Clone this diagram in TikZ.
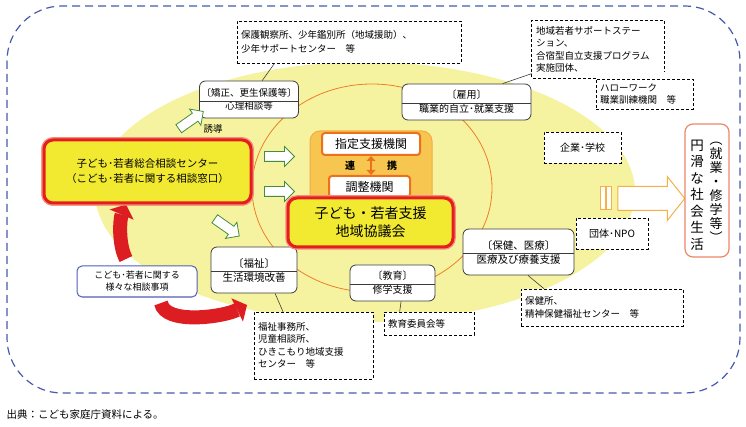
\documentclass[tikz,border=0pt]{standalone}
\usepackage{fontspec}
\setmainfont{Noto Sans CJK JP}
\usetikzlibrary{arrows.meta}
\usetikzlibrary{shapes.arrows}

\definecolor{outerblue}{RGB}{70,90,175}
\definecolor{pale}{RGB}{246,243,160}
\definecolor{ring}{RGB}{240,125,40}
\definecolor{boxline}{RGB}{60,60,60}
\definecolor{centeryellow}{RGB}{242,234,48}
\definecolor{redline}{RGB}{228,30,30}
\definecolor{redouter}{RGB}{245,140,120}
\definecolor{groupfill}{RGB}{246,198,80}
\definecolor{groupline}{RGB}{245,170,70}
\definecolor{innerorange}{RGB}{236,112,30}
\definecolor{arrowgreen}{RGB}{70,140,60}
\definecolor{arroworange}{RGB}{245,175,70}
\definecolor{lifeline}{RGB}{236,135,105}
\definecolor{bluebox}{RGB}{80,95,180}
\definecolor{redfill}{RGB}{220,30,35}

\begin{document}
\begin{tikzpicture}
  [x=1pt,y=-1pt,
   dashbox/.style={draw,dashed,dash pattern=on 3pt off 2pt,line width=0.7pt,fill=white,
     inner sep=4pt,align=left,font=\fontsize{9.5}{12.5}\selectfont},
   splitbox/.style={draw=boxline,line width=0.8pt,fill=white,rounded corners=6pt,
     inner xsep=2pt,align=center,font=\fontsize{10}{14}\selectfont},
   redbox/.style={draw=redline,line width=3pt,fill=centeryellow,rounded corners=9pt,
     preaction={draw=redouter,line width=5.5pt},align=center},
   greenarrow/.style={single arrow,draw=arrowgreen,fill=white,line width=0.8pt,
     inner sep=4.5pt,single arrow head extend=5pt,minimum height=30pt},
   redarrow/.style={draw=redfill,line width=14pt,
     -{Triangle[length=11pt,width=26pt,line width=0pt]}},
   inbox/.style={draw=innerorange,line width=2pt,fill=white,rounded corners=3pt,
     font=\fontsize{12}{14}\selectfont},
   link/.style={draw=boxline,line width=0.6pt}]
  \useasboundingbox (0,0) rectangle (746,427);

  % background
  \draw[outerblue,line width=1.2pt,dash pattern=on 8pt off 5pt,rounded corners=55pt]
    (7,6) rectangle (740,393);
  \fill[pale] (365,192) ellipse [x radius=270, y radius=130];
  \draw[ring,line width=0.8pt] (372,188) ellipse [x radius=120, y radius=104];

  % red arrows
  \coordinate (redA) at (126,259);
  \coordinate (redB) at (161,303);
  \coordinate (redBend) at (247,305);
  \node[redbox,minimum width=207pt,minimum height=63pt,
    font=\fontsize{10.5}{15}\selectfont] (sodan) at (147.5,171.5)
    {子ども･若者総合相談センター\\（こども･若者に関する相談窓口）};
  \draw[redarrow] (redA) .. controls +(-8,-15) and +(-6,14) .. (sodan.south -| redA);
  \draw[redarrow] (redB) .. controls +(4,22) and +(-24,12) .. (redBend);
  \node[redbox,minimum width=207pt,minimum height=63pt,
    font=\fontsize{10.5}{15}\selectfont] at (sodan) 
    {子ども･若者総合相談センター\\（こども･若者に関する相談窓口）};

  % outside boxes
  \node[dashbox,text width=216pt,minimum height=42pt,
    font=\fontsize{9.5}{14}\selectfont] (hogo) at (349,42)
    {保護観察所、少年鑑別所（地域援助）、\\少年サポートセンター　等};
  \node[dashbox,draw=none,text width=124pt,minimum height=57pt] (chiiki) at (598,49.5)
    {地域若者サポートステー\\ション、\\合宿型自立支援プログラム\\実施団体、};
  \node[dashbox,text width=89pt,minimum height=30pt,
    font=\fontsize{9.5}{12}\selectfont] (hello) at (644.5,94)
    {ハローワーク\\職業訓練機関　等};
  \draw[dash pattern=on 3pt off 2pt,line width=0.7pt]
    (chiiki.south west -| hello.west) -- (chiiki.south west) -- (chiiki.north west)
    -- (chiiki.north east) -- ([yshift=6pt]chiiki.south east);
  \node[dashbox,align=center,minimum width=77pt,minimum height=31pt,
    font=\fontsize{10}{12}\selectfont] (kigyo) at (582.5,147.5) {企業･学校};
  \node[dashbox,align=center,minimum width=72pt,minimum height=31pt,
    font=\fontsize{10}{12}\selectfont] (dantai) at (612,233.5) {団体･NPO};
  \node[dashbox,text width=111pt,minimum height=67pt] (fukujimu) at (313.5,345.5)
    {福祉事務所、\\児童相談所、\\ひきこもり地域支援\\センター　等};
  \node[dashbox,text width=82pt,minimum height=23pt] (kyoikui) at (429,323.5)
    {教育委員会等};
  \node[dashbox,text width=154pt,minimum height=37pt,
    font=\fontsize{9.5}{13}\selectfont] (hokenjo) at (602,307.5)
    {保健所、\\精神保健福祉センター　等};

  % field boxes
  \node[splitbox,minimum width=98pt,minimum height=37pt,
    font=\fontsize{9.5}{13.5}\selectfont] (kyosei) at (249,99.5)
    {〔矯正、更生保護等〕\\心理相談等};
  \node[splitbox,minimum width=129pt,minimum height=36pt] (koyo) at (466.5,102)
    {〔雇用〕\\職業的自立･就業支援};
  \node[splitbox,minimum width=86pt,minimum height=46pt,
    font=\fontsize{10.5}{14}\selectfont] (fukushi) at (254,270)
    {〔福祉〕\\生活環境改善};
  \node[splitbox,minimum width=85pt,minimum height=36pt] (kyoiku) at (392.5,283)
    {〔教育〕\\修学支援};
  \node[splitbox,minimum width=111pt,minimum height=46pt,
    font=\fontsize{10.5}{14}\selectfont] (hoken) at (518.5,252)
    {〔保健、医療〕\\医療及び療養支援};
  \foreach \b in {kyosei,koyo,fukushi,kyoiku,hoken}
    \draw[link,line width=0.8pt] ([yshift=-1.5pt]\b.west) -- ([yshift=-1.5pt]\b.east);

  \draw[link] (kyosei.55) -- (hogo.196);
  \draw[link] (koyo.27) -- (chiiki.200);
  \draw[link] (fukushi.-48) -- (fukujimu.132);
  \draw[link] (kyoiku.-65) -- (kyoikui.158);
  \draw[link] (hoken.-68) -- (hokenjo.162);

  \node[draw=bluebox,line width=1pt,fill=white,rounded corners=5pt,
    minimum width=120pt,minimum height=31pt,align=center,
    font=\fontsize{9}{12}\selectfont] (jiko) at (137,281.5)
    {こども･若者に関する\\様々な相談事項};

  % centre
  \node[draw=groupline,line width=1pt,fill=groupfill,rounded corners=10pt,
    minimum width=122pt,minimum height=78pt] (renkei) at (371,170) {};
  \node[inbox,minimum width=98pt,minimum height=22pt] (shitei) at (371,144) {指定支援機関};
  \node[inbox,minimum width=81pt,minimum height=21pt] (chosei) at (369.5,186.5) {調整機関};
  \node[font=\fontsize{10}{12}\selectfont\bfseries] (ren) at (350,166) {連};
  \node[font=\fontsize{10}{12}\selectfont\bfseries] (kei) at (392,166) {携};
  \draw[innerorange,line width=2.5pt,
    {Triangle[length=5pt,width=9pt,line width=0pt]}-{Triangle[length=5pt,width=9pt,line width=0pt]}]
    (shitei.south) -- (shitei.south |- chosei.north);
  \node[redbox,minimum width=165pt,minimum height=49pt,
    font=\fontsize{14}{18}\selectfont] (kyogikai) at (370.5,222.5)
    {子ども・若者支援\\地域協議会};

  % green arrows
  \node[greenarrow] (g1) at (277,156.5) {};
  \node[greenarrow] (g2) at (277,191.5) {};
  \node[greenarrow,rotate=35] (g3) at (189,121.5) {};
  \node[greenarrow,rotate=-35] (g4) at (225,226) {};
  \node[font=\fontsize{9.5}{12}\selectfont] (yudo) at (213,129) {誘導};

  % to social life
  \node[draw=arroworange,fill=white,line width=1pt,minimum width=5pt,minimum height=23pt,
    inner sep=0pt] (bar1) at (602.5,198.5) {};
  \node[draw=arroworange,fill=white,line width=1pt,minimum width=5pt,minimum height=23pt,
    inner sep=0pt] (bar2) at (608.5,198.5) {};
  \node[single arrow,draw=arroworange,fill=white,line width=1pt,inner sep=11.5pt,
    single arrow head extend=10pt,single arrow tip angle=103,minimum height=67pt]
    (big) at (646.5,198.5) {};
  \node[draw=lifeline,line width=1.2pt,rounded corners=8pt,fill=white,
    minimum width=44pt,minimum height=133pt] (life) at (707,190.5) {};
  \node[align=center,font=\fontsize{13.5}{16.5}\selectfont] (col1) at (697,195)
    {円\\滑\\な\\社\\会\\生\\活};
  \node[align=center,font=\fontsize{13}{14}\selectfont] (col2) at (716,192.5)
    {︵\\就\\業\\・\\修\\学\\等\\︶};

  \node[anchor=west,font=\fontsize{10.5}{12}\selectfont] (source) at (3,415)
    {出典：こども家庭庁資料による。};
\end{tikzpicture}
\end{document}
